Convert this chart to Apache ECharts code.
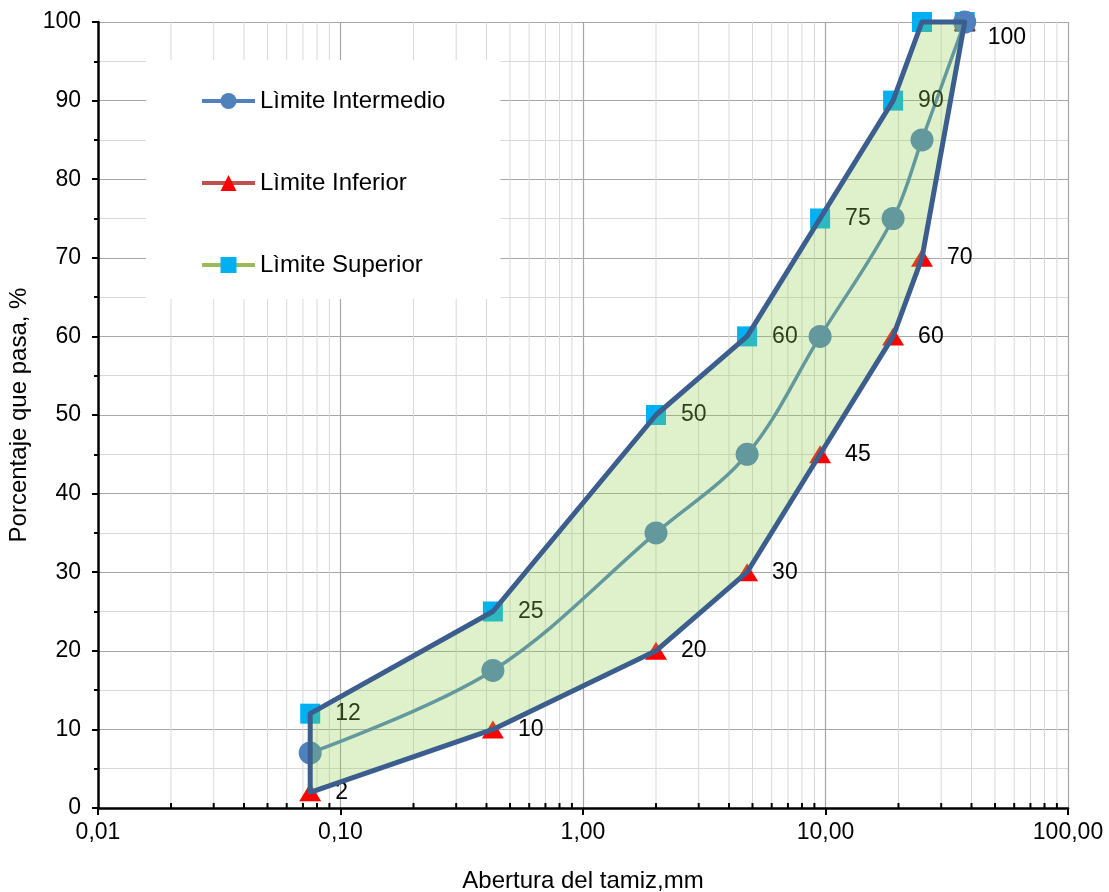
<!DOCTYPE html>
<html>
<head>
<meta charset="utf-8">
<title>Curva granulométrica</title>
<script src="https://cdn.jsdelivr.net/npm/echarts@6/dist/echarts.min.js"></script>
<style>
  html, body { margin: 0; padding: 0; background: #fff; }
  #chart { width: 1109px; height: 892px; }
</style>
</head>
<body>
<div id="chart"></div>
<script>
// abertura del tamiz (mm)
const sieveSizes = [0.075, 0.425, 2, 4.75, 9.5, 19, 25, 37.5];
const upperLimit = [12, 25, 50, 60, 75, 90, 100, 100];
const lowerLimit = [2, 10, 20, 30, 45, 60, 70, 100];
const midLimit = [7, 17.5, 35, 45, 60, 75, 85, 100];
// which points get a value label
const upperLabelShow = [true, true, true, true, true, true, false, false];
const lowerLabelShow = [true, true, true, true, true, true, true, true];

// minor grid lines of the log axis: 2..9 in each decade
const minorX = [];
[0.01, 0.1, 1, 10].forEach(function (d) {
    for (let k = 2; k <= 9; k++) minorX.push(+(d * k).toPrecision(3));
});

const FONT = '"Liberation Sans", Arial, sans-serif';

function pairs(ys, labelShow, extra) {
    return sieveSizes.map(function (x, i) {
        const item = {value: [x, ys[i]]};
        if (labelShow) {
            item.label = {show: labelShow[i]};
            if (extra && extra[i]) Object.assign(item.label, extra[i]);
        }
        return item;
    });
}

let myChart = echarts.init(document.getElementById('chart'));
myChart.setOption({
    animation: false,
    backgroundColor: '#fff',
    grid: {left: 98, right: 41, top: 22, bottom: 84, outerBoundsMode: 'none'},
    legend: {
        orient: 'vertical',
        left: 146,
        top: 60,
        padding: [29, 55, 22, 54],
        itemGap: 58,
        itemWidth: 53,
        itemHeight: 20,
        backgroundColor: '#fff',
        lineStyle: {width: 4},
        textStyle: {fontFamily: FONT, fontSize: 24, color: '#000'},
        data: ['Lìmite Intermedio', 'Lìmite Inferior', 'Lìmite Superior']
    },
    xAxis: {
        type: 'log',
        logBase: 10,
        min: 0.01,
        max: 100,
        name: 'Abertura del tamiz,mm',
        nameLocation: 'middle',
        nameGap: 61,
        nameTextStyle: {fontFamily: FONT, fontSize: 24, color: '#000'},
        axisLine: {lineStyle: {color: '#000', width: 2.5}},
        axisTick: {length: 7, lineStyle: {color: '#000', width: 2}},
        axisLabel: {
            margin: 13,
            fontFamily: FONT,
            fontSize: 23,
            color: '#000',
            formatter: function (v) { return (+v).toFixed(2).replace('.', ','); }
        },
        splitLine: {show: true, lineStyle: {color: '#A6A6A6', width: 1.2}}
    },
    yAxis: {
        type: 'value',
        min: 0,
        max: 100,
        interval: 10,
        name: 'Porcentaje que pasa, %',
        nameLocation: 'middle',
        nameGap: 51,
        nameTextStyle: {fontFamily: FONT, fontSize: 24, color: '#000'},
        axisLine: {show: true, lineStyle: {color: '#000', width: 2.5}},
        axisTick: {show: true, length: 6, lineStyle: {color: '#000', width: 2}},
        minorTick: {show: true, splitNumber: 2, length: 4, lineStyle: {color: '#000', width: 2}},
        axisLabel: {margin: 17, fontFamily: FONT, fontSize: 23, color: '#000'},
        splitLine: {lineStyle: {color: '#A6A6A6', width: 1.2}},
        minorSplitLine: {show: true, lineStyle: {color: '#D9D9D9', width: 1}}
    },
    series: [
        {
            // líneas secundarias del eje logarítmico
            name: 'minor',
            type: 'custom',
            silent: true,
            z: 1,
            data: minorX.map(function (v) { return [v, 0]; }),
            renderItem: function (params, api) {
                const p0 = api.coord([api.value(0), 0]);
                const p1 = api.coord([api.value(0), 100]);
                return {
                    type: 'group',
                    children: [
                        {type: 'line', shape: {x1: p0[0], y1: p0[1], x2: p1[0], y2: p1[1]},
                         style: {stroke: '#D9D9D9', lineWidth: 1}},
                        {type: 'line', shape: {x1: p0[0], y1: p0[1] - 5, x2: p0[0], y2: p0[1]},
                         style: {stroke: '#000', lineWidth: 2}}
                    ]
                };
            }
        },
        {
            name: 'Lìmite Superior',
            type: 'line',
            z: 2,
            symbol: 'rect',
            symbolSize: 20,
            itemStyle: {color: '#00B0F0'},
            lineStyle: {color: '#9BBB59', width: 3.5},
            label: {position: 'right', distance: 15, fontFamily: FONT, fontSize: 23, color: '#000'},
            data: pairs(upperLimit, upperLabelShow)
        },
        {
            name: 'Lìmite Inferior',
            type: 'line',
            z: 2,
            symbol: 'triangle',
            symbolSize: [22, 18],
            itemStyle: {color: '#FF0000'},
            lineStyle: {color: '#C0504D', width: 3.5},
            label: {position: 'right', distance: 14, fontFamily: FONT, fontSize: 23, color: '#000'},
            data: pairs(lowerLimit, lowerLabelShow, {7: {offset: [-2, 16]}})
        },
        {
            name: 'Lìmite Intermedio',
            type: 'line',
            z: 2,
            smooth: 0.35,
            symbol: 'circle',
            symbolSize: 23,
            itemStyle: {color: '#4F81BD'},
            lineStyle: {color: '#4F81BD', width: 3.5},
            data: pairs(midLimit)
        },
        {
            // envolvente sombreada entre límites
            name: 'banda',
            type: 'custom',
            silent: true,
            z: 3,
            data: [[sieveSizes[0], upperLimit[0]]],
            renderItem: function (params, api) {
                const pts = [];
                sieveSizes.forEach(function (x, i) { pts.push(api.coord([x, upperLimit[i]])); });
                for (let i = sieveSizes.length - 1; i >= 0; i--) pts.push(api.coord([sieveSizes[i], lowerLimit[i]]));
                return {
                    type: 'polygon',
                    shape: {points: pts},
                    style: {
                        fill: 'rgba(146,208,80,0.3)',
                        stroke: '#3B5E8F',
                        lineWidth: 5,
                        lineJoin: 'round'
                    }
                };
            }
        }
    ]
});
</script>
</body>
</html>
